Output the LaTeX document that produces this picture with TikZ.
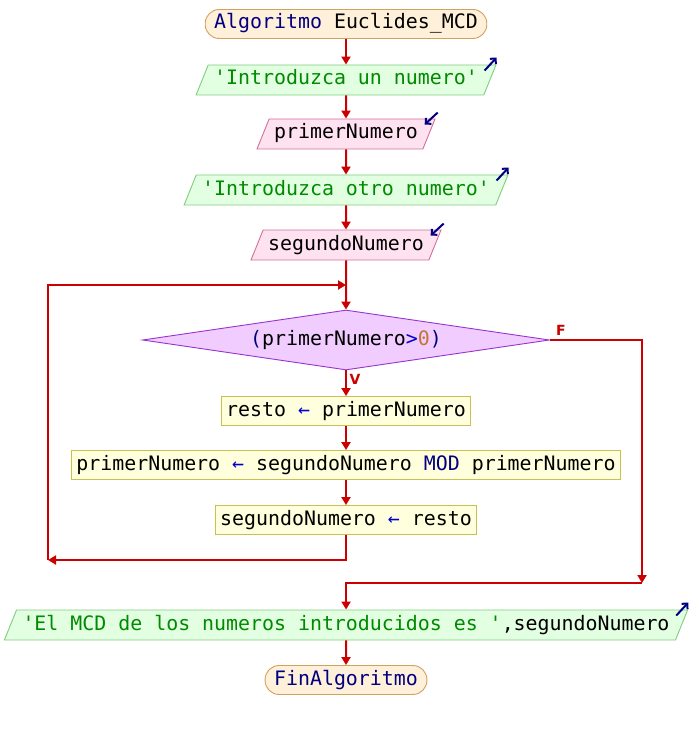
\documentclass[tikz,border=0pt]{standalone}
\usepackage{fontspec}
\setmonofont{DejaVu Sans Mono}
\setsansfont{DejaVu Sans}
\usetikzlibrary{shapes.geometric,arrows.meta}
\definecolor{flecha}{HTML}{CC0000}
\definecolor{bordeterm}{HTML}{D4A060}
\definecolor{fondoterm}{HTML}{FFF0DA}
\definecolor{bordesal}{HTML}{80CC80}
\definecolor{fondosal}{HTML}{E2FFE2}
\definecolor{bordeent}{HTML}{D0709A}
\definecolor{fondoent}{HTML}{FFE2F0}
\definecolor{bordeproc}{HTML}{C8C050}
\definecolor{fondoproc}{HTML}{FFFFDD}
\definecolor{bordecond}{HTML}{9933CC}
\definecolor{fondocond}{HTML}{F0CCFF}
\definecolor{azulkw}{HTML}{000080}
\definecolor{azulop}{HTML}{0000CC}
\definecolor{verdecad}{HTML}{008A00}
\definecolor{ocrenum}{HTML}{C07830}
\newcommand{\kw}[1]{\textcolor{azulkw}{#1}}
\newcommand{\op}[1]{\textcolor{azulop}{#1}}
\newcommand{\cad}[1]{\textcolor{verdecad}{#1}}
\newcommand{\nm}[1]{\textcolor{ocrenum}{#1}}
\begin{document}
\begin{tikzpicture}[x=1pt,y=-1pt]
	\tikzstyle{every node}+=[font=\ttfamily\fontsize{19.9}{22}\selectfont,text height=15pt,text depth=5pt,inner ysep=4.5pt,line width=0.9pt]
	\tikzstyle{terminal}=[draw=bordeterm,fill=fondoterm,rounded corners=14pt,inner xsep=9pt]
	\tikzstyle{salida}=[trapezium,trapezium left angle=68,trapezium right angle=112,draw=bordesal,fill=fondosal,inner xsep=6pt,inner ysep=5pt]
	\tikzstyle{entrada}=[trapezium,trapezium left angle=68,trapezium right angle=112,draw=bordeent,fill=fondoent,inner xsep=5pt,inner ysep=5pt]
	\tikzstyle{proceso}=[draw=bordeproc,fill=fondoproc,inner xsep=5pt]
	\tikzstyle{condicion}=[diamond,aspect=6.8,draw=bordecond,fill=fondocond,inner sep=0pt,minimum width=407pt,minimum height=60pt]
	\tikzstyle{flujo}=[draw=flecha,line width=2pt,-{Triangle[width=9pt,length=8pt]}]
	\tikzstyle{icono}=[draw=azulkw,line width=2pt,-{Straight Barb[length=4pt,width=8pt]}]
	\tikzstyle{etiqueta}=[font=\sffamily\bfseries\fontsize{14}{15}\selectfont,text=flecha,text height=10pt,text depth=0pt,inner sep=0pt]
	\useasboundingbox (0,0) rectangle (692,730);
	\node [terminal] (inicio) at (346,24) {\kw{Algoritmo} Euclides\_MCD};
	\node [salida] (sal1) at (346,80) {\cad{'Introduzca un numero'}};
	\node [entrada] (ent1) at (346,134) {primerNumero};
	\node [salida] (sal2) at (346,190) {\cad{'Introduzca otro numero'}};
	\node [entrada] (ent2) at (346,245) {segundoNumero};
	\node [condicion] (cond) at (346,340) {\kw{(}primerNumero\op{>}\nm{0}\kw{)}};
	\node [etiqueta] (lblf) at (561,330) {F};
	\node [etiqueta] (lblv) at (355,379) {V};
	\node [proceso] (proc1) at (346,411) {resto \op{←} primerNumero};
	\node [proceso] (proc2) at (346,465) {primerNumero \op{←} segundoNumero \kw{MOD} primerNumero};
	\node [proceso] (proc3) at (346,520) {segundoNumero \op{←} resto};
	\node [salida] (sal3) at (346,625) {\cad{'El MCD de los numeros introducidos es '},segundoNumero};
	\node [terminal] (fin) at (346,680) {\kw{FinAlgoritmo}};
	\coordinate (bucleabajo) at (48,560);
	\coordinate (bucleentra) at (346,285);
	\coordinate (salederecha) at (642,583);
	\draw [flujo] (inicio) -- (sal1);
	\draw [flujo] (sal1) -- (ent1);
	\draw [flujo] (ent1) -- (sal2);
	\draw [flujo] (sal2) -- (ent2);
	\draw [flujo] (ent2) -- (cond);
	\draw [flujo] (cond) -- (proc1);
	\draw [flujo] (proc1) -- (proc2);
	\draw [flujo] (proc2) -- (proc3);
	\draw [flujo] (proc3.south) |- (bucleabajo);
	\draw [flujo] (bucleabajo) |- (bucleentra);
	\draw [flujo] (cond.east) -| (salederecha);
	\draw [flujo] (salederecha) -| (sal3.north);
	\draw [flujo] (sal3) -- (fin);
	\draw [icono] ([shift={(-12,6)}]sal1.top right corner) -- ([shift={(0,-7)}]sal1.top right corner);
	\draw [icono] ([shift={(-12,6)}]sal2.top right corner) -- ([shift={(0,-7)}]sal2.top right corner);
	\draw [icono] ([shift={(-12,6)}]sal3.top right corner) -- ([shift={(0,-7)}]sal3.top right corner);
	\draw [icono] ([shift={(2,-6)}]ent1.top right corner) -- ([shift={(-11,6)}]ent1.top right corner);
	\draw [icono] ([shift={(2,-6)}]ent2.top right corner) -- ([shift={(-11,6)}]ent2.top right corner);
\end{tikzpicture}
\end{document}
